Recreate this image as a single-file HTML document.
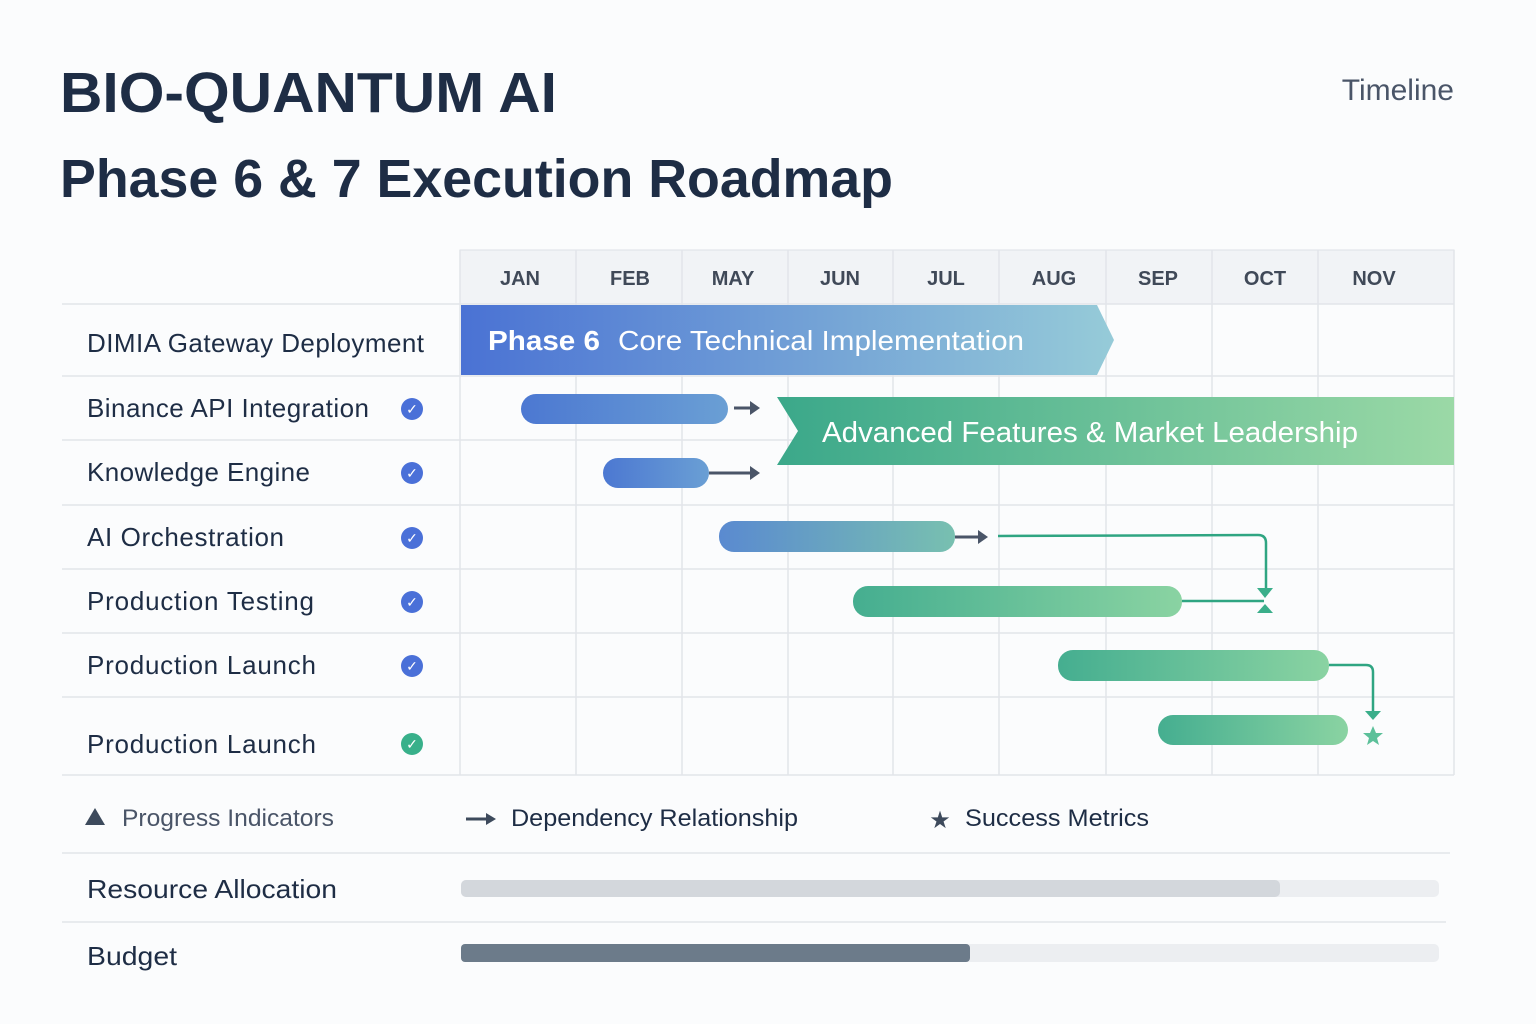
<!DOCTYPE html>
<html><head><meta charset="utf-8"><style>
html,body{margin:0;padding:0;background:#fbfcfd;}
svg{display:block;font-family:"Liberation Sans",sans-serif;}
</style></head><body>
<svg width="1536" height="1024" viewBox="0 0 1536 1024" xmlns="http://www.w3.org/2000/svg">
<defs>
<linearGradient id="p6" x1="0" x2="1"><stop offset="0" stop-color="#4a72d4"/><stop offset="1" stop-color="#96cbd8"/></linearGradient>
<linearGradient id="p7" x1="0" x2="1"><stop offset="0" stop-color="#3ba88a"/><stop offset="1" stop-color="#9bd9a6"/></linearGradient>
<linearGradient id="bb" x1="0" x2="1"><stop offset="0" stop-color="#4c78d2"/><stop offset="1" stop-color="#6a9fd4"/></linearGradient>
<linearGradient id="bt" x1="0" x2="1"><stop offset="0" stop-color="#5a8ad0"/><stop offset="1" stop-color="#78c0b0"/></linearGradient>
<linearGradient id="bg" x1="0" x2="1"><stop offset="0" stop-color="#45ae90"/><stop offset="1" stop-color="#8ad3a2"/></linearGradient>
</defs>
<rect width="1536" height="1024" fill="#fbfcfd"/>
<text x="60" y="112" font-size="57" font-weight="bold" fill="#1e2d45" textLength="497" lengthAdjust="spacingAndGlyphs">BIO-QUANTUM AI</text>
<text x="60" y="197" font-size="54" font-weight="bold" fill="#1e2d45" textLength="833" lengthAdjust="spacingAndGlyphs">Phase 6 &amp; 7 Execution Roadmap</text>
<text x="1454" y="100" font-size="30" fill="#4a5568" text-anchor="end">Timeline</text>

<rect x="460" y="250" width="994" height="54" fill="#f1f3f6" stroke="#dde1e6"/>
<g font-size="20" fill="#2d3748" text-anchor="middle" font-weight="bold" opacity="0.9">
<text x="520" y="285">JAN</text><text x="630" y="285">FEB</text><text x="733" y="285">MAY</text>
<text x="840" y="285">JUN</text><text x="946" y="285">JUL</text><text x="1054" y="285">AUG</text>
<text x="1158" y="285">SEP</text><text x="1265" y="285">OCT</text><text x="1374" y="285">NOV</text>
</g>
<g stroke="#e2e5ea" stroke-width="1.5">
<line x1="576" y1="250" x2="576" y2="775"/><line x1="682" y1="250" x2="682" y2="775"/>
<line x1="788" y1="250" x2="788" y2="775"/><line x1="893" y1="250" x2="893" y2="775"/>
<line x1="999" y1="250" x2="999" y2="775"/><line x1="1106" y1="250" x2="1106" y2="775"/>
<line x1="1212" y1="250" x2="1212" y2="775"/><line x1="1318" y1="250" x2="1318" y2="775"/>
<line x1="1454" y1="250" x2="1454" y2="775"/><line x1="460" y1="250" x2="460" y2="775"/>
<line x1="62" y1="304" x2="1454" y2="304"/><line x1="62" y1="376" x2="1454" y2="376"/>
<line x1="62" y1="440" x2="1454" y2="440"/><line x1="62" y1="505" x2="1454" y2="505"/>
<line x1="62" y1="569" x2="1454" y2="569"/><line x1="62" y1="633" x2="1454" y2="633"/>
<line x1="62" y1="697" x2="1454" y2="697"/><line x1="62" y1="775" x2="1454" y2="775"/>
<line x1="62" y1="853" x2="1450" y2="853"/><line x1="62" y1="922" x2="1446" y2="922"/>
</g>

<g font-size="26" fill="#1e2d45" lengthAdjust="spacingAndGlyphs">
<text x="87" y="352" textLength="337">DIMIA Gateway Deployment</text>
<text x="87" y="417" textLength="282">Binance API Integration</text>
<text x="87" y="481" textLength="223">Knowledge Engine</text>
<text x="87" y="546" textLength="197">AI Orchestration</text>
<text x="87" y="610" textLength="227">Production Testing</text>
<text x="87" y="674" textLength="229">Production Launch</text>
<text x="87" y="753" textLength="229">Production Launch</text>
</g>
<g font-size="14" fill="#fff" text-anchor="middle">
<circle cx="412" cy="409" r="11" fill="#4a70d8"/><text x="412" y="414">✓</text>
<circle cx="412" cy="473" r="11" fill="#4a70d8"/><text x="412" y="478">✓</text>
<circle cx="412" cy="538" r="11" fill="#4a70d8"/><text x="412" y="543">✓</text>
<circle cx="412" cy="602" r="11" fill="#4a70d8"/><text x="412" y="607">✓</text>
<circle cx="412" cy="666" r="11" fill="#4a70d8"/><text x="412" y="671">✓</text>
<circle cx="412" cy="744" r="11" fill="#38b08a"/><text x="412" y="749">✓</text>
</g>

<polygon points="461,305 1097,305 1114,340 1097,375 461,375" fill="url(#p6)"/>
<text x="488" y="350" font-size="28" font-weight="bold" fill="#fff" textLength="112" lengthAdjust="spacingAndGlyphs">Phase 6</text>
<text x="618" y="350" font-size="28" fill="#fff" textLength="406" lengthAdjust="spacingAndGlyphs">Core Technical Implementation</text>
<polygon points="777,397 1454,397 1454,465 777,465 798,431" fill="url(#p7)"/>
<text x="822" y="442" font-size="29" fill="#fff" textLength="536" lengthAdjust="spacingAndGlyphs">Advanced Features &amp; Market Leadership</text>

<rect x="521" y="394" width="207" height="30" rx="15" fill="url(#bb)"/>
<rect x="603" y="458" width="106" height="30" rx="15" fill="url(#bb)"/>
<rect x="719" y="521" width="236" height="31" rx="15" fill="url(#bt)"/>
<rect x="853" y="586" width="329" height="31" rx="15" fill="url(#bg)"/>
<rect x="1058" y="650" width="271" height="31" rx="15" fill="url(#bg)"/>
<rect x="1158" y="715" width="190" height="30" rx="15" fill="url(#bg)"/>

<g stroke="#4a5568" stroke-width="3" fill="#4a5568">
<line x1="734" y1="408" x2="752" y2="408"/><polygon points="750,401 760,408 750,415" stroke="none"/>
<line x1="709" y1="473" x2="752" y2="473"/><polygon points="750,466 760,473 750,480" stroke="none"/>
<line x1="955" y1="537" x2="980" y2="537"/><polygon points="978,530 988,537 978,544" stroke="none"/>
</g>
<g stroke="#2fa582" stroke-width="2.5" fill="none">
<path d="M998 536 L1258 535 Q1266 535 1266 543 L1266 590"/>
<line x1="1182" y1="601" x2="1264" y2="601"/>
<path d="M1329 665 L1366 665 Q1373 665 1373 672 L1373 712"/>
</g>
<g fill="#3aae8a">
<polygon points="1257,588 1273,588 1265,598"/>
<polygon points="1257,613 1273,613 1265,604"/>
<polygon points="1365,711 1381,711 1373,720"/>
<polygon points="1373,726 1376,733 1383,733 1377,738 1379,745 1373,741 1367,745 1369,738 1363,733 1370,733" fill="#5cc09a"/>
</g>

<polygon points="95,808 105,825 85,825" fill="#3d4a5c"/>
<text x="122" y="826" font-size="24" fill="#4a5568" textLength="212" lengthAdjust="spacingAndGlyphs">Progress Indicators</text>
<line x1="466" y1="819" x2="488" y2="819" stroke="#3d4a5c" stroke-width="3"/>
<polygon points="486,813 496,819 486,825" fill="#3d4a5c"/>
<text x="511" y="826" font-size="24" fill="#1e2d45" textLength="287" lengthAdjust="spacingAndGlyphs">Dependency Relationship</text>
<text x="940" y="828" font-size="24" fill="#3d4a5c" text-anchor="middle">★</text>
<text x="965" y="826" font-size="24" fill="#1e2d45" textLength="184" lengthAdjust="spacingAndGlyphs">Success Metrics</text>

<text x="87" y="898" font-size="26" fill="#1e2d45" textLength="250" lengthAdjust="spacingAndGlyphs">Resource Allocation</text>
<rect x="461" y="880" width="978" height="17" rx="5" fill="#eceef1"/>
<rect x="461" y="880" width="819" height="17" rx="5" fill="#d3d7dc"/>
<text x="87" y="965" font-size="26" fill="#1e2d45" textLength="90" lengthAdjust="spacingAndGlyphs">Budget</text>
<rect x="461" y="944" width="978" height="18" rx="5" fill="#eceef1"/>
<rect x="461" y="944" width="509" height="18" rx="4" fill="#6c7b8a"/>
</svg>
</body></html>
